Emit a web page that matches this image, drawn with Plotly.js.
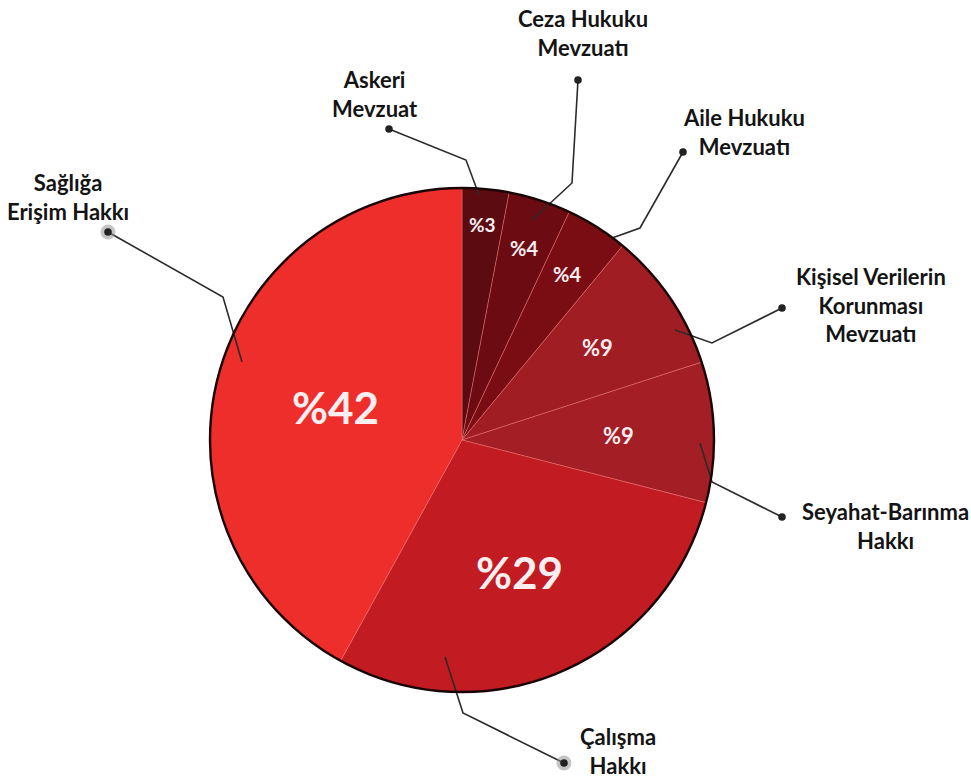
<!DOCTYPE html>
<html>
<head>
<meta charset="utf-8">
<script src="https://cdn.plot.ly/plotly-3.0.1.min.js"></script>
<style>html,body{margin:0;padding:0;background:#fff;}#chart{width:971px;height:782px;}</style>
</head>
<body>
<div id="chart"></div>
<script>
// ---- data ----
const categories = ['Askeri Mevzuat','Ceza Hukuku Mevzuatı','Aile Hukuku Mevzuatı','Kişisel Verilerin Korunması Mevzuatı','Seyahat-Barınma Hakkı','Çalışma Hakkı','Sağlığa Erişim Hakkı'];
const values = [3, 4, 4, 9, 9, 29, 42];
const calloutLabels = ['Askeri<br>Mevzuat','Ceza Hukuku<br>Mevzuatı','Aile Hukuku<br>Mevzuatı','Kişisel Verilerin<br>Korunması<br>Mevzuatı','Seyahat-Barınma<br>Hakkı','Çalışma<br>Hakkı','Sağlığa<br>Erişim Hakkı'];
const pctLabels = values.map(v => '%' + v);

// ---- styling / layout geometry ----
const W = 971, H = 782;
const CX = 462, CY = 440, R = 252;
const colors = ['#5c0b10','#6c0b11','#7a0d13','#a01d24','#a41e25','#c21b22','#ee2e2b'];
const pctSize = [19, 20, 20, 22, 22, 44, 44];
const pctRadius = [0.86, 0.80, 0.78, 0.65, 0.62, 0.57, 0.52];
const calloutPos = [[375,94],[583,33],[744,132],[871,305],[885,526],[618,751],[68,197]];
const leaderPaths = [
  [[389,129],[466,160],[479,195]],
  [[578,80],[572,183],[532,220]],
  [[683,152],[640,228],[612,238]],
  [[782,308],[712,343],[675,330]],
  [[782,517],[712,482],[700,443]],
  [[564,763],[463,713],[445,657]],
  [[108,232],[223,297],[242,362]]
];
const haloDot = [false,false,false,false,false,true,true];

const px = x => x / W;
const py = y => 1 - y / H;

const total = values.reduce((a,b)=>a+b,0);
const annotations = [];
const shapes = [];
let cum = 0;
values.forEach((v,i) => {
  const th = (cum + v/2) / total * 2 * Math.PI;
  cum += v;
  const rr = R * pctRadius[i];
  annotations.push({
    xref:'paper', yref:'paper', x: px(CX + rr*Math.sin(th)), y: py(CY - rr*Math.cos(th)),
    text: pctLabels[i], showarrow:false, xanchor:'center', yanchor:'middle',
    font:{family:'Lato, "Liberation Sans", sans-serif', size:pctSize[i], color:'#fbeef1', weight:'bold'}
  });
  annotations.push({
    xref:'paper', yref:'paper', x: px(calloutPos[i][0]), y: py(calloutPos[i][1]),
    text: calloutLabels[i], showarrow:false, xanchor:'center', yanchor:'middle', align:'center',
    font:{family:'Lato, "Liberation Sans", sans-serif', size:22, color:'#141414', weight:'bold'}
  });
  const p = leaderPaths[i];
  shapes.push({
    type:'path', xref:'paper', yref:'paper', layer:'above',
    path: p.map((q,j) => (j ? 'L ' : 'M ') + px(q[0]) + ' ' + py(q[1])).join(' '),
    line:{color:'#2b2b2b', width:1.6}
  });
  const d0 = p[0];
  if (haloDot[i]) {
    shapes.push({type:'circle', xref:'paper', yref:'paper', layer:'above', xsizemode:'pixel', ysizemode:'pixel',
      xanchor:px(d0[0]), yanchor:py(d0[1]), x0:-7.5, x1:7.5, y0:-7.5, y1:7.5,
      fillcolor:'rgba(150,150,150,0.55)', line:{width:0}});
  }
  shapes.push({type:'circle', xref:'paper', yref:'paper', layer:'above', xsizemode:'pixel', ysizemode:'pixel',
    xanchor:px(d0[0]), yanchor:py(d0[1]), x0:-3.8, x1:3.8, y0:-3.8, y1:3.8,
    fillcolor:'#222', line:{width:0}});
});

// outer rim of the pie
shapes.push({type:'circle', xref:'paper', yref:'paper', layer:'above',
  x0:px(CX-R), x1:px(CX+R), y0:py(CY+R), y1:py(CY-R), line:{color:'#1a0506', width:2.4}});

const trace = {
  type:'pie', labels:categories, values:values, sort:false, direction:'clockwise', rotation:0,
  textinfo:'none', hoverinfo:'label+value',
  marker:{colors:colors, line:{color:'rgba(238,120,120,0.55)', width:0.8}},
  domain:{x:[px(CX-R), px(CX+R)], y:[py(CY+R), py(CY-R)]},
  showlegend:false
};

const layout = {
  width:W, height:H, margin:{l:0,r:0,t:0,b:0},
  paper_bgcolor:'#ffffff', plot_bgcolor:'#ffffff',
  showlegend:false, annotations:annotations, shapes:shapes
};

Plotly.newPlot('chart', [trace], layout, {displayModeBar:false, staticPlot:true});
</script>
</body>
</html>
